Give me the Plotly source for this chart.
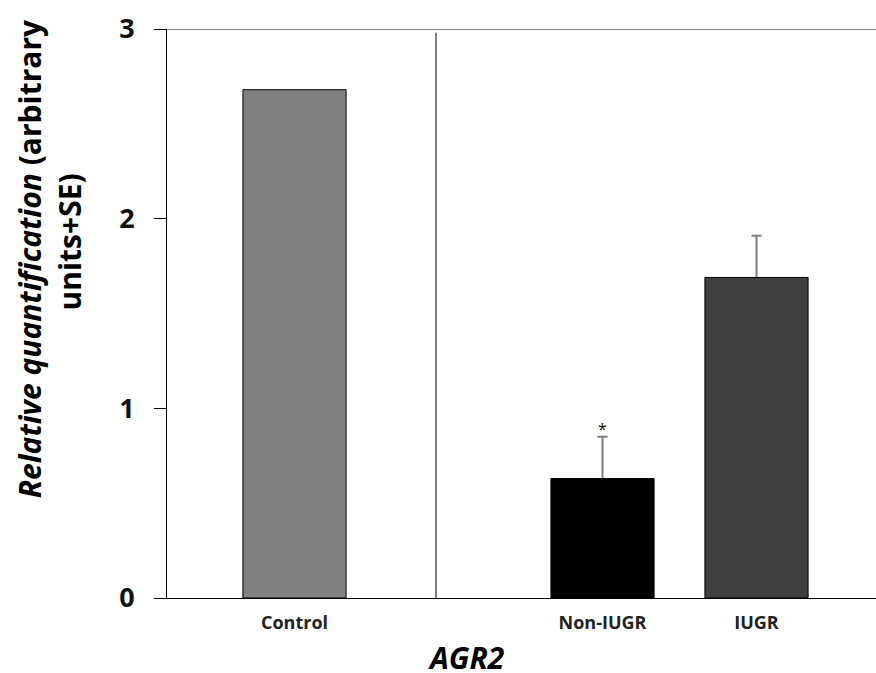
import plotly.graph_objects as go

categories = ["Control", "Non-IUGR", "IUGR"]
positions = [0, 2, 3]
values = [2.68, 0.63, 1.69]
errors = [None, 0.22, 0.22]
colors = ["#808080", "#000000", "#404040"]
y_ticks = [0, 1, 2, 3]

FONT = "Open Sans"

# only bars that have an SE get an error bar
err_idx = [i for i, e in enumerate(errors) if e is not None]
err_x = [positions[i] for i in err_idx]
err_y = [values[i] for i in err_idx]
err_v = [errors[i] for i in err_idx]

fig = go.Figure()
# error bars (drawn underneath the bars so only the upper half shows)
fig.add_trace(go.Bar(
    x=err_x, y=err_y, width=0.67,
    marker=dict(color="rgba(0,0,0,0)", line=dict(width=0)),
    error_y=dict(type="data", symmetric=False, array=err_v,
                 arrayminus=[0.05] * len(err_v),
                 visible=True, color="#7f7f7f", thickness=2, width=5),
    showlegend=False, hoverinfo="skip",
))
fig.add_trace(go.Bar(
    x=positions, y=values, width=0.67,
    marker=dict(color=colors, line=dict(color="#000000", width=1)),
    showlegend=False,
))

fig.update_layout(
    width=876, height=673, barmode="overlay",
    margin=dict(l=167, r=0, t=29, b=75),
    plot_bgcolor="white", paper_bgcolor="white",
    xaxis=dict(range=[-0.828, 3.776], tickvals=positions, ticktext=categories,
               showgrid=False, zeroline=False, showline=True, linecolor="black",
               linewidth=1, ticks="", ticklabelstandoff=8,
               tickfont=dict(family=FONT, size=18, color="#222222", weight="bold")),
    yaxis=dict(range=[0, 3], tickvals=y_ticks, showgrid=False, zeroline=False,
               showline=True, linecolor="black", linewidth=1, ticks="outside",
               ticklen=12, tickcolor="black", ticklabelstandoff=14,
               tickfont=dict(family=FONT, size=27, color="#111111", weight="bold")),
)

# top border line at y=3
fig.add_shape(type="line", xref="paper", yref="y", x0=0, x1=1, y0=3, y1=3,
              line=dict(color="black", width=1))
# vertical divider
fig.add_shape(type="line", xref="x", yref="y", x0=0.919, x1=0.919, y0=0, y1=2.98,
              line=dict(color="black", width=1))

# significance star
fig.add_annotation(x=positions[1], y=values[1] + errors[1], yshift=8, text="*",
                   showarrow=False, font=dict(family=FONT, size=16, color="black"))

# axis titles
fig.add_annotation(xref="x", yref="paper", x=1.12, y=-0.1045, text="<b><i>AGR2</i></b>",
                   showarrow=False, font=dict(family=FONT, size=30, color="black"),
                   yanchor="middle")
fig.add_annotation(xref="paper", yref="paper", x=-0.194, y=0.596, textangle=-90,
                   text="<b><i>Relative quantification</i> (arbitrary</b>",
                   showarrow=False, font=dict(family=FONT, size=30, color="black"),
                   xanchor="center", yanchor="middle")
fig.add_annotation(xref="paper", yref="paper", x=-0.138, y=0.625, textangle=-90,
                   text="<b>units+SE)</b>",
                   showarrow=False, font=dict(family=FONT, size=30, color="black"),
                   xanchor="center", yanchor="middle")

fig.write_html("out.html")
